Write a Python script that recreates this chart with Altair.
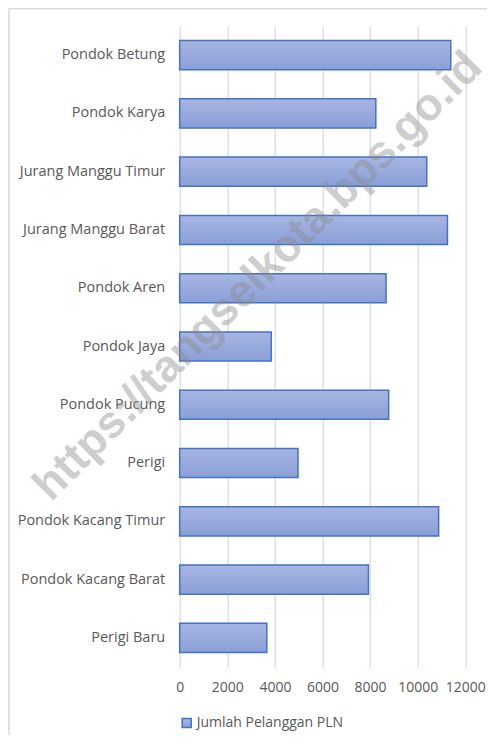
import altair as alt
import pandas as pd

categories = [
    "Pondok Betung", "Pondok Karya", "Jurang Manggu Timur", "Jurang Manggu Barat",
    "Pondok Aren", "Pondok Jaya", "Pondok Pucung", "Perigi",
    "Pondok Kacang Timur", "Pondok Kacang Barat", "Perigi Baru",
]
values = [11390, 8240, 10380, 11250, 8670, 3850, 8780, 4970, 10880, 7930, 3660]
series_name = "Jumlah Pelanggan PLN"
x_ticks = [0, 2000, 4000, 6000, 8000, 10000, 12000]
watermark = "https://tangselkota.bps.go.id"

df = pd.DataFrame({"kelurahan": categories, "nilai": values, "series": [series_name] * len(categories)})

FONT = "Open Sans"
GRAY = "#595959"

gradient = alt.Gradient(
    gradient="linear",
    stops=[alt.GradientStop(color="#a7b6e2", offset=0), alt.GradientStop(color="#8a9fd7", offset=1)],
    x1=0, x2=0, y1=0, y2=1,
)

bars = alt.Chart(df).mark_bar(fill=gradient, strokeWidth=1.5).encode(
    y=alt.Y("kelurahan:N", sort=categories, title=None,
            scale=alt.Scale(paddingInner=0.5, paddingOuter=0.25),
            axis=alt.Axis(ticks=False, domain=False, labelPadding=15, labelFont=FONT,
                          labelFontSize=14.5, labelColor=GRAY, grid=False)),
    x=alt.X("nilai:Q", title=None,
            scale=alt.Scale(domain=[0, 12000], nice=False),
            axis=alt.Axis(values=x_ticks, ticks=False, domain=False, grid=True, gridColor="#d9d9d9",
                          gridWidth=1.2, labelPadding=14, labelFont=FONT, labelFontSize=14,
                          labelColor=GRAY, format="d", labelOverlap=False, labelFlush=False)),
    stroke=alt.Stroke("series:N", scale=alt.Scale(range=["#4472c4"]), title=None,
                      legend=alt.Legend(orient="none", legendX=0, legendY=690, symbolType="square",
                                        symbolSize=81, symbolStrokeWidth=1.5, symbolFillColor="#98aadd",
                                        labelFont=FONT, labelFontSize=14, labelColor=GRAY,
                                        labelOffset=3, padding=0)),
)

wm = alt.Chart(pd.DataFrame({"t": [watermark]})).mark_text(
    angle=315, fontSize=45, fontWeight="bold", font="Liberation Sans", fill="#8c8c8c",
    opacity=0.42, align="center", baseline="middle",
).encode(text="t:N", x=alt.value(78), y=alt.value(250))

border_left = alt.Chart(pd.DataFrame({"t": [0]})).mark_rule(color="#d9d9d9", strokeWidth=1.5).encode(
    x=alt.value(-170.7), y=alt.value(-17.5), y2=alt.value(760))
border_top = alt.Chart(pd.DataFrame({"t": [0]})).mark_rule(color="#d9d9d9", strokeWidth=1.5).encode(
    x=alt.value(-170.7), x2=alt.value(400), y=alt.value(-17.2))

chart = alt.layer(border_left, border_top, bars, wm).properties(
    width=285.6, height=641,
    padding={"left": 171.7, "top": 18, "right": 22, "bottom": 68},
    autosize=alt.AutoSizeParams(type="none"),
).configure_view(stroke=None)

chart.save("out.html", embed_options={"renderer": "svg", "actions": False})
